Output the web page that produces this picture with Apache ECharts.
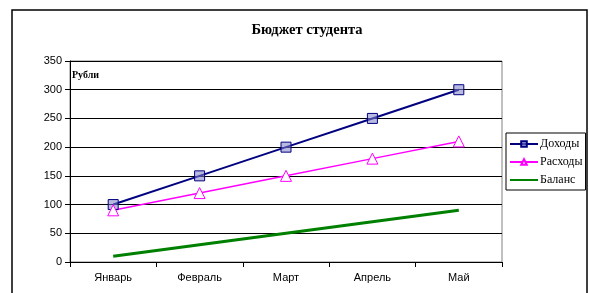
<!DOCTYPE html>
<html>
<head>
<meta charset="utf-8">
<script src="https://cdn.jsdelivr.net/npm/echarts@6/dist/echarts.min.js"></script>
<style>
html,body{margin:0;padding:0;background:#fff;}
#chart{width:589px;height:293px;}
</style>
</head>
<body>
<div id="chart"></div>
<script>
// данные графика
const months = ["Январь", "Февраль", "Март", "Апрель", "Май"]
const dohody = [100, 150, 200, 250, 300]
const rashody = [90, 120, 150, 180, 210]
const balans = [10, 30, 50, 70, 90]

var myChart = echarts.init(document.getElementById('chart'))
var serif = '"Liberation Serif", "Times New Roman", serif'
var sans = '"Liberation Sans", Arial, sans-serif'

var option = {
	animation: false,
	backgroundColor: '#fff',
	title: {
		text: 'Бюджет студента',
		left: 302,
		textAlign: 'center',
		top: 18,
		textStyle: { fontFamily: serif, fontSize: 14.5, fontWeight: 'bold', color: '#000' }
	},
	graphic: [{
		type: 'rect',
		shape: { x: 12, y: 10, width: 575, height: 295 },
		style: { fill: 'none', stroke: '#000', lineWidth: 1.5 },
		silent: true
	}, {
		type: 'text',
		left: 72,
		top: 70,
		style: { text: 'Рубли', font: 'bold 10px ' + serif, fill: '#000' }
	}],
	legend: {
		orient: 'vertical',
		left: 506,
		top: 133,
		padding: [5, 3, 4, 3],
		itemGap: 6,
		itemWidth: 28,
		itemHeight: 7,
		borderColor: '#000',
		borderWidth: 1,
		textStyle: { fontFamily: serif, fontSize: 12, color: '#000', padding: [0, 0, 0, -3] },
		data: ['Доходы', 'Расходы', 'Баланс']
	},
	grid: {
		left: 70,
		top: 61,
		width: 432,
		height: 201,
		show: true,
		borderColor: '#808080',
		borderWidth: 1
	},
	xAxis: {
		type: 'category',
		data: months,
		boundaryGap: true,
		axisLine: { lineStyle: { color: '#000', width: 1 } },
		axisTick: { show: true, length: 5, lineStyle: { color: '#000' } },
		axisLabel: { fontFamily: sans, fontSize: 11, color: '#000', margin: 10 },
		splitLine: { show: false }
	},
	yAxis: {
		type: 'value',
		min: 0,
		max: 350,
		interval: 50,
		axisLine: { show: true, lineStyle: { color: '#000', width: 1 } },
		axisTick: { show: true, length: 5, lineStyle: { color: '#000' } },
		axisLabel: { fontFamily: sans, fontSize: 11, color: '#000', margin: 8 },
		splitLine: { show: true, lineStyle: { color: '#000', width: 1 } }
	},
	series: [{
		name: 'Доходы',
		type: 'line',
		data: dohody,
		symbol: 'rect',
		symbolSize: 10,
		showAllSymbol: true,
		lineStyle: { color: '#000080', width: 2 },
		itemStyle: { color: 'rgba(130,130,200,0.55)', borderColor: '#000080', borderWidth: 1 }
	}, {
		name: 'Расходы',
		type: 'line',
		data: rashody,
		symbol: 'triangle',
		symbolSize: 11,
		lineStyle: { color: '#ff00ff', width: 1.5 },
		itemStyle: { color: '#fff', borderColor: '#ff00ff', borderWidth: 1 }
	}, {
		name: 'Баланс',
		type: 'line',
		data: balans,
		symbol: 'none',
		lineStyle: { color: '#008000', width: 3 },
		itemStyle: { color: 'rgba(0,0,0,0)', borderWidth: 0 }
	}]
}
myChart.setOption(option)
</script>
</body>
</html>
